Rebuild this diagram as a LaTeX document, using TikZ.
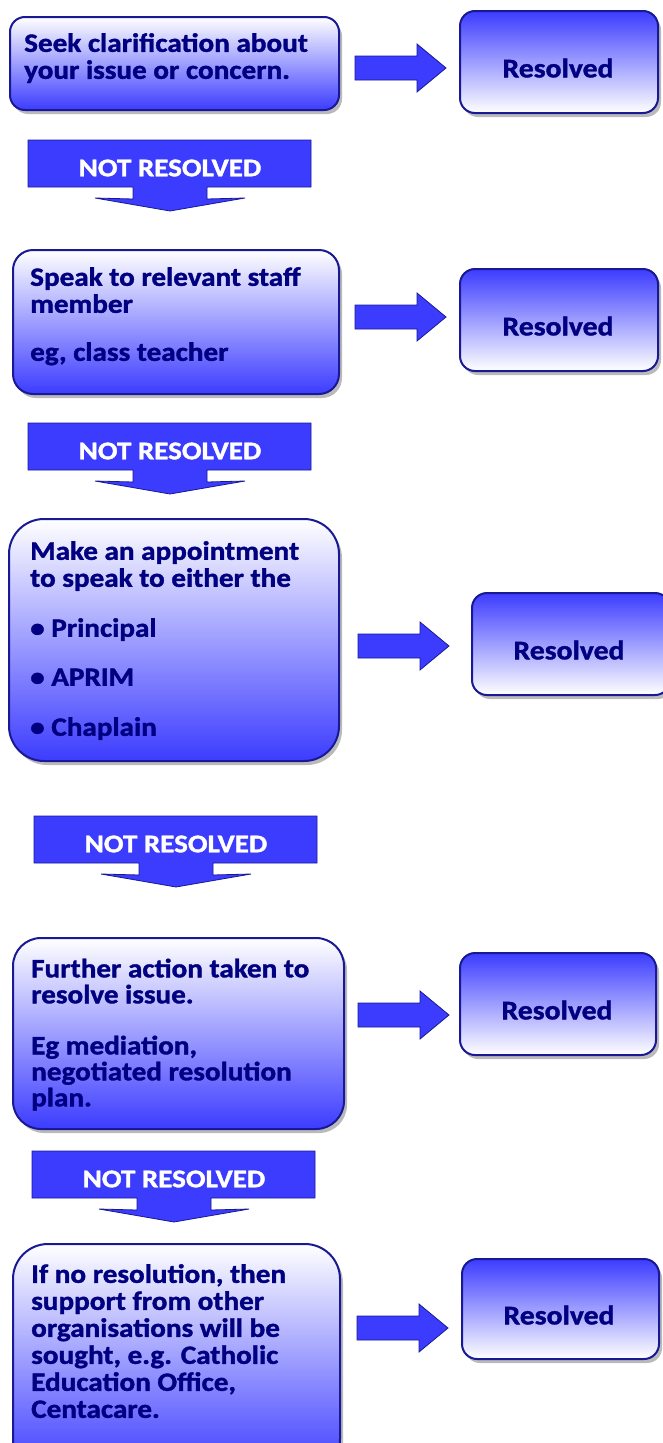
\documentclass[tikz,border=0pt]{standalone}
\usepackage{fontspec}
\setmainfont{Carlito}[BoldFeatures={FakeBold=1.3}]
\usetikzlibrary{shadows}
\definecolor{bblue}{RGB}{60,60,255}
\definecolor{bedge}{RGB}{25,25,150}
\definecolor{navy}{RGB}{0,0,128}
\tikzset{
  boxbase/.style={draw=bedge, line width=2pt, anchor=north west, inner sep=0pt,
    drop shadow={shadow xshift=3pt, shadow yshift=-4pt, fill=black!45, opacity=0.6}},
  stepbox/.style={boxbase, top color=white, bottom color=bblue},
  resbox/.style={boxbase, top color=bblue, bottom color=white, rounded corners=15pt,
    minimum width=198pt, minimum height=102pt},
  boxtext/.style={anchor=north west, inner sep=0pt, align=left, text=navy,
    xscale=1.1, transform shape,
    font=\fontsize{26.5}{27}\selectfont\bfseries},
  restext/.style={inner sep=0pt, text=navy, xscale=1.1, transform shape,
    font=\fontsize{27}{27}\selectfont\bfseries},
  arrowfill/.style={fill=bblue, draw=bedge, line width=0.8pt},
  nrtext/.style={inner sep=0pt, text=white, xscale=1.14, transform shape,
    font=\fontsize{25.5}{26}\selectfont\bfseries},
  rarrow/.pic={\draw[arrowfill] (0,-12) -- (62,-12) -- (62,-24) -- (91,0) -- (62,24) -- (62,12) -- (0,12) -- cycle;},
  notres/.pic={\draw[arrowfill] (0,0) -- (283,0) -- (283,47) -- (179,47) -- (179,59) -- (217,58)
      -- (142,71) -- (67,58) -- (105,59) -- (105,47) -- (0,47) -- cycle;
    \node[nrtext] (-t) at (142,28) {NOT RESOLVED};}
}
\begin{document}
\begin{tikzpicture}[x=1pt,y=-1pt]
\useasboundingbox (0,0) rectangle (662,1443);
% step boxes
\node[stepbox, rounded corners=15pt, minimum width=329pt, minimum height=93pt] (b1) at (9,16) {};
\node[stepbox, rounded corners=20pt, minimum width=326pt, minimum height=144pt] (b2) at (12,249) {};
\node[stepbox, rounded corners=35pt, minimum width=330pt, minimum height=242pt] (b3) at (8,518) {};
\node[stepbox, rounded corners=28pt, minimum width=331pt, minimum height=191pt] (b4) at (12,937) {};
\node[stepbox, rounded corners=35pt, minimum width=327pt, minimum height=230pt] (b5) at (12,1243) {};
% texts
\node[boxtext] (t1) at (24,33) {Seek clarification about\\your issue or concern.};
\node[boxtext] (t2) at (30,267) {Speak to relevant staff\\member\\[21pt]eg, class teacher};
\node[boxtext] (t3) at (30,541) {Make an appointment\\to speak to either the\\[23pt]• Principal\\[22pt]• APRIM\\[23pt]• Chaplain};
\node[boxtext, font=\fontsize{26.5}{26}\selectfont\bfseries] (t4) at (31,958.5) {Further action taken to\\resolve issue.\\[25pt]Eg mediation,\\negotiated resolution\\plan.};
\node[boxtext] (t5) at (31,1264) {If no resolution, then\\support from other\\organisations will be\\sought, e.g. Catholic\\Education Office,\\Centacare.};
% resolved boxes
\node[resbox] (r1) at (459,10) {};
\node[resbox] (r2) at (459,268) {};
\node[resbox] (r3) at (471,592) {};
\node[resbox, minimum width=196pt] (r4) at (459,952) {};
\node[resbox, minimum height=100pt, minimum width=197pt] (r5) at (461,1258) {};
\node[restext] (rt1) at (558,68) {Resolved};
\node[restext] (rt2) at (558,326) {Resolved};
\node[restext] (rt3) at (569,650) {Resolved};
\node[restext] (rt4) at (557,1010) {Resolved};
\node[restext] (rt5) at (559,1315) {Resolved};
% right arrows
\pic at (355,68) {rarrow};
\pic at (355,317) {rarrow};
\pic at (358,646) {rarrow};
\pic at (358,1015) {rarrow};
\pic at (357,1328) {rarrow};
% down arrows
\pic (d1) at (28,140) {notres};
\pic (d2) at (28,423) {notres};
\pic (d3) at (34,816) {notres};
\pic (d4) at (32,1151) {notres};
\end{tikzpicture}
\end{document}
